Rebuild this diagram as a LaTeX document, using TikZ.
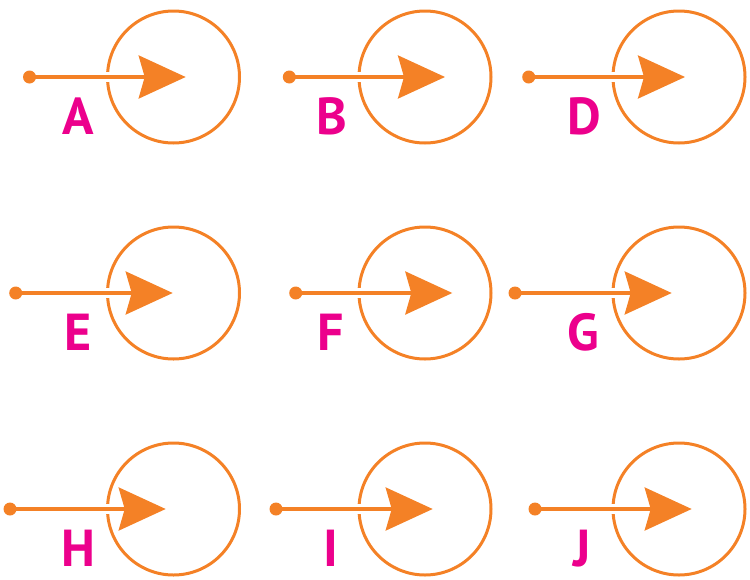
\documentclass[tikz,border=0pt]{standalone}
\usepackage{fontspec}
\setmainfont{PT Sans}
\usetikzlibrary{arrows.meta}
\definecolor{orng}{RGB}{244,129,38}
\definecolor{pnk}{RGB}{236,0,140}
\tikzset{
  ring/.style={circle,draw=orng,line width=3pt,minimum size=132pt,inner sep=0pt},
  dotnode/.style={circle,fill=orng,minimum size=13pt,inner sep=0pt},
  wire/.style={draw=orng,line width=3.3pt,-{Stealth[length=47pt 0,width=43pt 0,inset=6pt 0]},
    preaction={draw=white,line width=10pt,arrows=-}},
  lab/.style={text=pnk,font=\fontsize{52}{52}\bfseries\selectfont,anchor=base,inner sep=0pt}
}
\begin{document}
\begin{tikzpicture}[x=1pt,y=-1pt]
\useasboundingbox (0,0) rectangle (750,579);
\foreach \n/\cx/\dx/\tx/\lx/\ry in {A/173.5/29.5/185.7/78/77, B/425/289.3/445/332/77, D/679/528.7/685/584/77,
    E/173.5/15.7/172.7/78.5/293, F/425/295.7/452.3/331/293, G/679/515/671.7/583.5/293,
    H/173.5/10/165.7/78/509, I/425/276/432.7/330.5/509, J/679/535/691.7/582/509}{
  \node[ring] (ring\n) at (\cx,\ry) {};
  \coordinate (tip\n) at (\tx,\ry);
  \draw[wire] (\dx,\ry) coordinate (start\n) -- (tip\n);
  \node[dotnode] (dot\n) at (start\n) {};
  \node[lab] (lab\n) at (\lx,\ry+57) {\n};
}
\end{tikzpicture}
\end{document}
